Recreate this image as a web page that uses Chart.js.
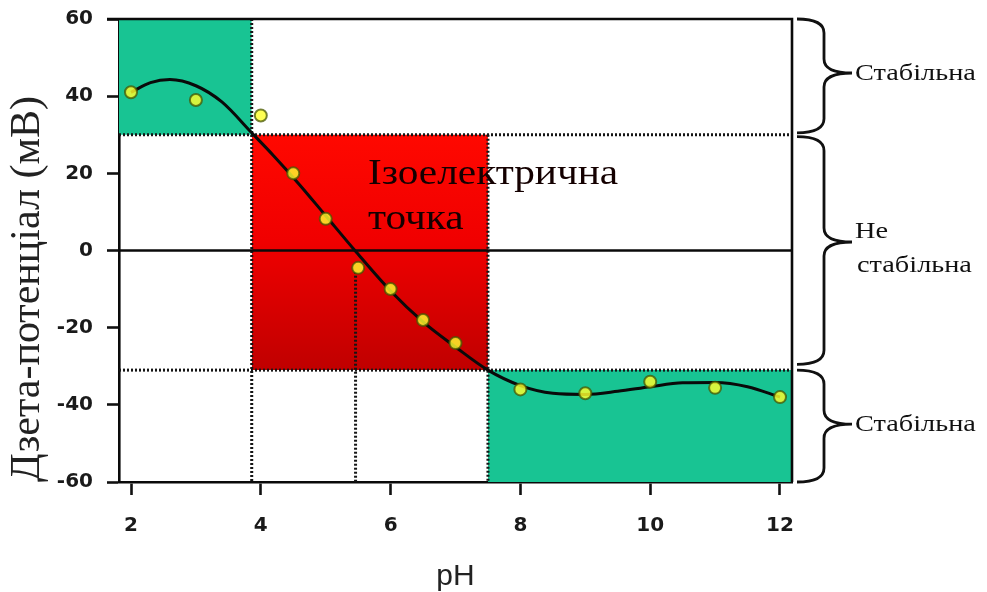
<!DOCTYPE html>
<html>
<head>
<meta charset="utf-8">
<script src="https://cdn.jsdelivr.net/npm/chart.js@4.4.0/dist/chart.umd.min.js"></script>
<style>
html,body{margin:0;padding:0;background:#fff;}
#wrap{width:987px;height:592px;position:relative;}
</style>
</head>
<body>
<div id="wrap"><canvas id="c" width="987" height="592"></canvas></div>
<script>
// ---- data ----
const phValues   = [2, 3, 4, 4.5, 5, 5.5, 6, 6.5, 7, 8, 9, 10, 11, 12];
const zetaValues = [41, 39, 35, 20, 8.2, -4.5, -10, -18, -24, -36, -37, -34, -35.6, -38];

// smooth fitted curve, read along its path
const curvePH   = [2.0, 2.3, 2.6, 3.0, 3.4, 3.86, 4.2, 4.6, 5.0, 5.45, 6.0, 6.5, 7.0, 7.5, 8.0, 8.5, 9.0, 9.5, 10.0, 10.5, 11.0, 11.5, 12.0];
const curveZeta = [41, 43.5, 44.3, 42.7, 38.5, 30.5, 24.5, 17, 9, 0, -10.5, -18.5, -25, -31, -35, -37, -37.3, -36.5, -35.3, -34.3, -34.2, -35.3, -38];

const xTickValues = [2, 4, 6, 8, 10, 12];
const yTickValues = [-60, -40, -20, 0, 20, 40, 60];
const xRange = [1.815, 12.185];
const yRange = [-60, 60];

// zones: [pH from, pH to, zeta from, zeta to]
const stableTopZone    = [1.815, 3.86, 30, 60];
const unstableZone     = [3.86, 7.5, -31, 30];
const stableBottomZone = [7.5, 12.185, -60, -31];

// dotted guide lines: [pH1, zeta1, pH2, zeta2]
const guideLines = [
  [3.86, 60, 3.86, -60],
  [1.815, 30, 12.185, 30],
  [1.815, -31, 12.185, -31],
  [7.5, 30, 7.5, -60],
  [5.46, -5.5, 5.46, -60]
];

// right-hand braces: [zeta top, zeta bottom], and the zeta where each brace points
const braceRanges = [[60, 30.5], [29.5, -29.5], [-31, -60]];
const braceTips   = [46, 2.2, -45];
const braceLabels = [["Стабільна"], ["Не", "стабільна"], ["Стабільна"]];
const isoLabel = ["Ізоелектрична", "точка"];
const yTitle = "Дзета-потенціал (мВ)";
const xTitle = "pH";

// ---- chart ----
function zoneSet(z, color, order) {
  return {
    data: [{x: z[0], y: z[3]}, {x: z[1], y: z[3]}],
    fill: {value: z[2]},
    backgroundColor: color,
    borderColor: 'transparent',
    borderWidth: 0,
    pointRadius: 0,
    tension: 0,
    order: order
  };
}

const redGradient = (ctx) => {
  const chart = ctx.chart;
  const ca = chart.chartArea;
  if (!ca) return '#e00000';
  const ys = chart.scales.y;
  const y0 = ys.getPixelForValue(unstableZone[3]);
  const y1 = ys.getPixelForValue(unstableZone[2]);
  const g = chart.ctx.createLinearGradient(0, y0, 0, y1);
  g.addColorStop(0, '#ff0800');
  g.addColorStop(0.45, '#f00000');
  g.addColorStop(1, '#c00000');
  return g;
};

const datasets = [];
datasets.push({
  data: phValues.map((p, i) => ({x: p, y: zetaValues[i]})),
  showLine: false,
  pointRadius: 6,
  pointBorderWidth: 2,
  pointBackgroundColor: 'rgba(255,255,45,0.82)',
  pointBorderColor: 'rgba(70,85,0,0.75)',
  order: 0
});
datasets.push({
  data: curvePH.map((p, i) => ({x: p, y: curveZeta[i]})),
  borderColor: '#0a0a0a',
  borderWidth: 3,
  pointRadius: 0,
  cubicInterpolationMode: 'monotone',
  fill: false,
  order: 1
});
datasets.push({
  data: [{x: xRange[0], y: 0}, {x: xRange[1], y: 0}],
  borderColor: '#0a0a0a',
  borderWidth: 2.6,
  pointRadius: 0,
  fill: false,
  order: 2
});
guideLines.forEach(l => {
  datasets.push({
    data: [{x: l[0], y: l[1]}, {x: l[2], y: l[3]}],
    borderColor: '#151515',
    borderWidth: 3,
    borderDash: [2, 2],
    borderCapStyle: 'butt',
    pointRadius: 0,
    fill: false,
    order: 3
  });
});
datasets.push(zoneSet(stableTopZone, '#18c493', 4));
datasets.push(zoneSet(unstableZone, redGradient, 4));
datasets.push(zoneSet(stableBottomZone, '#18c493', 4));

const decorPlugin = {
  id: 'decor',
  afterDatasetsDraw(chart) {
    const {ctx, chartArea: ca, scales: {x, y}} = chart;
    ctx.save();
    // frame top and right
    ctx.strokeStyle = '#0a0a0a';
    ctx.lineWidth = 2.6;
    ctx.beginPath();
    ctx.moveTo(ca.left - 12, ca.top);
    ctx.lineTo(ca.right, ca.top);
    ctx.lineTo(ca.right, ca.bottom);
    ctx.stroke();

    // isoelectric label
    ctx.fillStyle = '#140000';
    ctx.font = '35px "Liberation Serif"';
    ctx.textBaseline = 'alphabetic';
    ctx.textAlign = 'left';
    const lx = x.getPixelForValue(5.65);
    [17.2, 5.5].forEach((v, i) => {
      ctx.save();
      ctx.translate(lx, y.getPixelForValue(v));
      ctx.scale(1.18, 1);
      ctx.fillText(isoLabel[i], 0, 0);
      ctx.restore();
    });

    // braces
    const x0 = ca.right + 5, xm = ca.right + 32, xt = ca.right + 60;
    ctx.lineWidth = 2.8;
    ctx.strokeStyle = '#111';
    braceRanges.forEach((r, i) => {
      const yt = y.getPixelForValue(r[0]);
      const yb = y.getPixelForValue(r[1]);
      const ym = y.getPixelForValue(braceTips[i]);
      const rr = 14;
      ctx.beginPath();
      ctx.moveTo(x0, yt);
      ctx.quadraticCurveTo(xm, yt, xm, yt + rr);
      ctx.lineTo(xm, ym - rr);
      ctx.quadraticCurveTo(xm, ym, xt, ym);
      ctx.quadraticCurveTo(xm, ym, xm, ym + rr);
      ctx.lineTo(xm, yb - rr);
      ctx.quadraticCurveTo(xm, yb, x0, yb);
      ctx.stroke();

      ctx.fillStyle = '#111';
      ctx.font = '24px "Liberation Serif"';
      const lines = braceLabels[i];
      const step = 34;
      const firstBase = lines.length > 1 ? ym - 4 : ym + 7;
      lines.forEach((t, k) => {
        ctx.save();
        ctx.translate(xt + 3 + (k > 0 ? 2 : 0), firstBase + k * step);
        ctx.scale(1.18, 1);
        ctx.fillText(t, 0, 0);
        ctx.restore();
      });
    });
    ctx.restore();
  }
};

const tickFont = {family: '"DejaVu Sans"', size: 20, weight: 'bold'};

new Chart(document.getElementById('c'), {
  type: 'line',
  data: {datasets},
  options: {
    responsive: false,
    animation: false,
    events: [],
    layout: {padding: {top: 19, right: 195, left: 0, bottom: 0}},
    plugins: {legend: {display: false}, tooltip: {enabled: false}},
    scales: {
      x: {
        type: 'linear',
        min: xRange[0], max: xRange[1],
        afterBuildTicks: s => { s.ticks = xTickValues.map(v => ({value: v})); },
        afterFit: s => { s.height = 110; s.paddingLeft = 0; s.paddingRight = 0; },
        grid: {drawOnChartArea: false, drawTicks: true, tickLength: 13, tickColor: '#111', tickWidth: 2.6, color: '#111'},
        border: {display: true, color: '#0a0a0a', width: 2.6},
        ticks: {color: '#1a1a1a', font: tickFont, padding: 19, maxRotation: 0, autoSkip: false},
        title: {display: true, text: xTitle, color: '#222', font: {family: '"Liberation Sans"', size: 30, lineHeight: 1}, padding: {top: 0, bottom: 0}}
      },
      y: {
        type: 'linear',
        min: yRange[0], max: yRange[1],
        afterBuildTicks: s => { s.ticks = yTickValues.map(v => ({value: v})); },
        afterFit: s => { s.width = 119; s.paddingTop = 10; s.paddingBottom = 10; },
        grid: {drawOnChartArea: false, drawTicks: true, tickLength: 12, tickColor: '#111', tickWidth: 2.6, color: '#111'},
        border: {display: true, color: '#0a0a0a', width: 2.6},
        ticks: {color: '#1a1a1a', font: tickFont, padding: 14, autoSkip: false},
        title: {display: true, text: yTitle, align: 'start', color: '#222', font: {family: '"Liberation Serif"', size: 42}, padding: {top: 3, bottom: 0}}
      }
    }
  },
  plugins: [decorPlugin]
});
</script>
</body>
</html>
